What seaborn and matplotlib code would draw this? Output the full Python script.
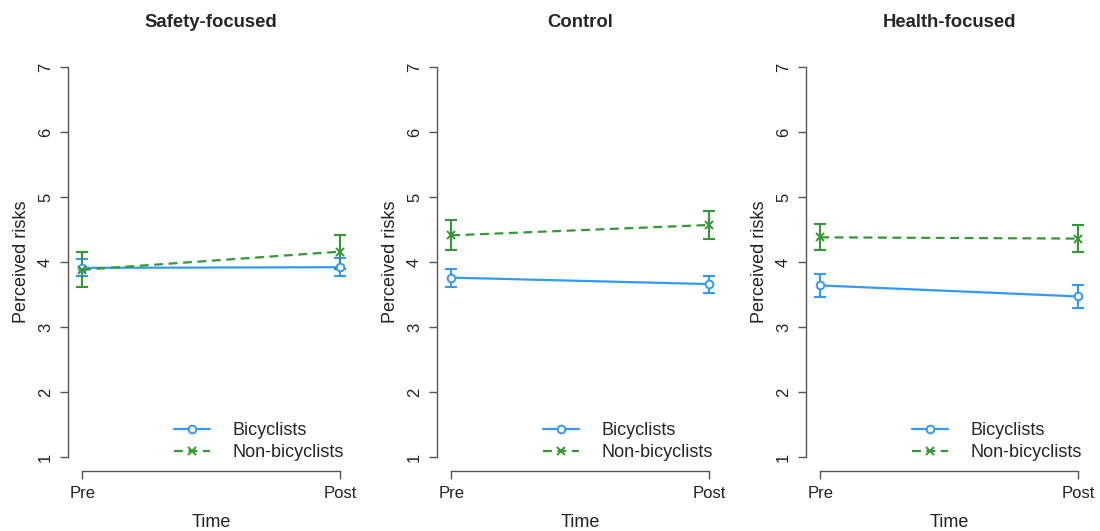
import numpy as np
import pandas as pd
import matplotlib
matplotlib.use("Agg")
import matplotlib.pyplot as plt
import seaborn as sns

panels = ["Safety-focused", "Control", "Health-focused"]
times = ["Pre", "Post"]
groups = ["Bicyclists", "Non-bicyclists"]

# means per panel: [pre, post]
bike_mean = [[3.91, 3.92], [3.76, 3.66], [3.64, 3.47]]
nonbike_mean = [[3.88, 4.16], [4.41, 4.57], [4.38, 4.36]]
# error bar half-widths
bike_err = [[0.13, 0.14], [0.14, 0.13], [0.18, 0.18]]
nonbike_err = [[0.27, 0.26], [0.23, 0.21], [0.20, 0.21]]

colors = {"Bicyclists": "#3399FF", "Non-bicyclists": "#339933"}
markers = {"Bicyclists": "o", "Non-bicyclists": "x"}
linestyles = {"Bicyclists": "-", "Non-bicyclists": (0, (4, 2.5))}

rows = []
for p, panel in enumerate(panels):
    for t, tm in enumerate(times):
        rows.append([panel, t + 1, "Bicyclists", bike_mean[p][t], bike_err[p][t]])
        rows.append([panel, t + 1, "Non-bicyclists", nonbike_mean[p][t], nonbike_err[p][t]])
df = pd.DataFrame(rows, columns=["panel", "time", "group", "risk", "err"])

sns.set_theme(style="white")
plt.rcParams["font.family"] = ["Liberation Sans", "DejaVu Sans"]

fig, axes = plt.subplots(1, 3, figsize=(11, 5.31), dpi=100)
fig.subplots_adjust(left=0.062, right=0.993, bottom=0.113, top=0.902, wspace=0.29)

for ax, panel in zip(axes, panels):
    sub = df[df["panel"] == panel]
    for g in groups:
        d = sub[sub["group"] == g]
        ax.errorbar(d["time"], d["risk"], yerr=d["err"], fmt="none",
                    ecolor=colors[g], elinewidth=1.5, capsize=4, capthick=1.5,
                    zorder=2)
        sns.lineplot(data=d, x="time", y="risk", color=colors[g],
                     marker=markers[g], linestyle=linestyles[g],
                     linewidth=1.6, markersize=5.5, markeredgewidth=1.4,
                     markerfacecolor="white" if g == "Bicyclists" else colors[g],
                     markeredgecolor=colors[g],
                     label=g, ax=ax, zorder=3)

    ax.set_xlim(0.946, 2.054)
    ax.set_ylim(0.785, 7.23)
    ax.set_xticks([1, 2])
    ax.set_xticklabels(times)
    ax.set_yticks(range(1, 8))
    ax.set_yticklabels([str(v) for v in range(1, 8)], rotation=90, va="center")
    ax.spines["top"].set_visible(False)
    ax.spines["right"].set_visible(False)
    ax.spines["left"].set_bounds(1, 7)
    ax.spines["bottom"].set_bounds(1, 2)
    for s in ["left", "bottom"]:
        ax.spines[s].set_color("#555555")
        ax.spines[s].set_linewidth(1.0)
    ax.tick_params(axis="both", length=6, width=1.0, color="#555555",
                   labelsize=12, labelcolor="#222222", direction="out", pad=5,
                   left=True, bottom=True)
    ax.set_xlabel("Time", fontsize=13, labelpad=9, color="#222222")
    ax.set_ylabel("Perceived risks", fontsize=13, labelpad=6, color="#222222")
    ax.set_title(panel, fontsize=13.3, fontweight="bold", pad=18)

    handles, labels = ax.get_legend_handles_labels()
    ax.legend(handles, labels, loc="lower right", bbox_to_anchor=(1.0, -0.003),
              frameon=False, fontsize=13, handlelength=2.0,
              labelspacing=0.3, handletextpad=1.2, borderaxespad=0.2)

fig.savefig("out.png", dpi=100)
